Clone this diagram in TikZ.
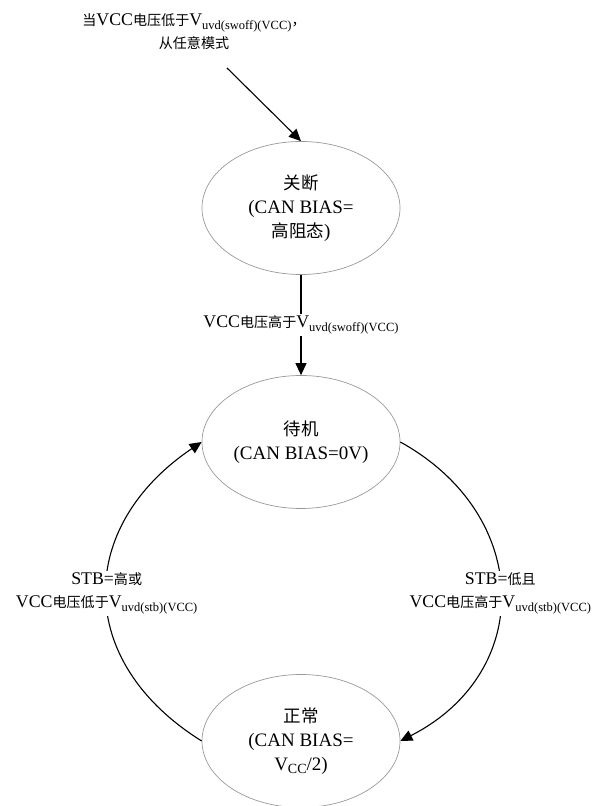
\documentclass[tikz,border=0pt]{standalone}
\usepackage{fontspec}
\setmainfont{Liberation Serif}
\newfontfamily\zha{Noto Sans CJK SC}[Scale=0.92]
\newfontfamily\zhb{Noto Sans CJK SC}[Scale=0.79]
\usetikzlibrary{shapes.geometric,arrows.meta}
\newcommand\lsub[1]{\raisebox{-3.5pt}{\fontsize{12.5}{12.5}\selectfont #1}}
\newcommand\esub[1]{\raisebox{-3.5pt}{\fontsize{14}{14}\selectfont #1}}
\begin{document}
\begin{tikzpicture}[x=1pt,y=1pt,
  state/.style={ellipse, draw=gray!80, line width=0.7pt, minimum width=198pt, minimum height=133pt, inner sep=0pt, align=center, font=\fontsize{19}{24}\selectfont},
  lbl/.style={fill=white, inner sep=2pt, align=center, font=\fontsize{17.8}{23}\selectfont},
  conn/.style={line width=1.1pt, -{Triangle[length=12pt,width=11pt]}}]
\useasboundingbox (0,0) rectangle (596,806);
\node[state] (gd) at (301,598) {{\zha 关断}\\(CAN BIAS=\\{\zha 高阻态})};
\node[state] (dj) at (301,364) {{\zha 待机}\\(CAN BIAS=0V)};
\node[state] (zc) at (301,65) {{\zha 正常}\\(CAN BIAS=\\V\esub{CC}/2)};
\node[lbl, fill=none] (top) at (194,774) {{\zhb 当}VCC{\zhb 电压低于}V\lsub{uvd(swoff)(VCC)}{\zhb ，}\\{\zhb 从任意模式}};
\coordinate (start) at (227,738);
\draw[conn] (start) -- (gd.north);
\draw[conn] (gd.south) -- node[lbl] (lmid) {VCC{\zhb 电压高于}V\lsub{uvd(swoff)(VCC)}} (dj.north);
\draw[conn] (zc.west) to[out=148,in=214,distance=151pt] node[lbl, pos=0.5] (lleft) {STB={\zhb 高或}\\VCC{\zhb 电压低于}V\lsub{uvd(stb)(VCC)}} (dj.west);
\draw[conn] (dj.east) to[out=-29,in=27,distance=151pt] node[lbl, pos=0.5] (lright) {STB={\zhb 低且}\\VCC{\zhb 电压高于}V\lsub{uvd(stb)(VCC)}} (zc.east);
\end{tikzpicture}
\end{document}
